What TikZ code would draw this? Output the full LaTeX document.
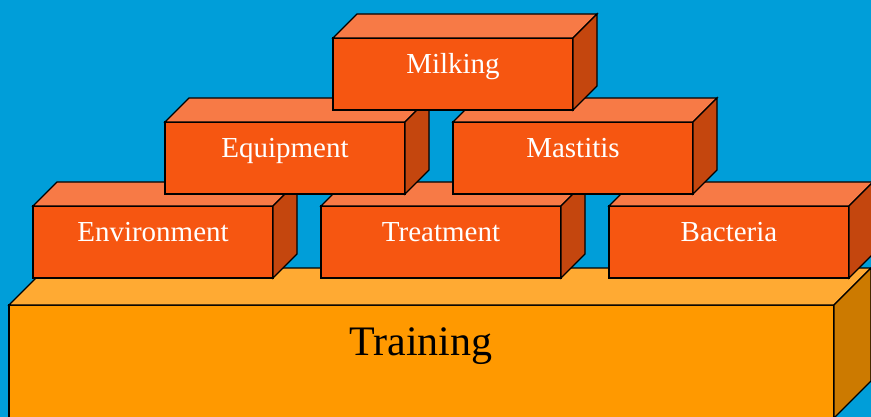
\documentclass[tikz,border=0pt]{standalone}
\usepackage{fontspec}
\setmainfont{Liberation Serif}
\usepackage{tikz}
\usetikzlibrary{positioning,calc}
\definecolor{fond}{RGB}{0,158,217}
\definecolor{briqueface}{RGB}{246,86,17}
\definecolor{briquedessus}{RGB}{247,122,70}
\definecolor{briquecote}{RGB}{196,70,14}
\definecolor{socleface}{RGB}{255,153,0}
\definecolor{socledessus}{RGB}{255,170,51}
\definecolor{soclecote}{RGB}{204,122,0}

\begin{document}
\begin{tikzpicture}[x=0.75pt,y=-0.75pt]
\tikzstyle{face}=[draw,line width=1pt,line join=miter,inner sep=0pt,outer sep=0pt]
\tikzstyle{brique}=[face,fill=briqueface,minimum width=180pt,minimum height=54pt,text=white,font=\fontsize{21.75}{26}\selectfont,text height=1ex,text depth=1ex]
\tikzstyle{socle}=[face,fill=socleface,minimum width=618.75pt,minimum height=84.75pt]
\def\Profondeur{24}
\def\ProfondeurSocle{37}
% dessus et cote d'un bloc : noeud, profondeur, couleurs
\def\Faces#1#2#3#4{
\draw[face,fill=#3] (#1.north west) -- ++(#2,-#2) -- ($(#1.north east)+(#2,-#2)$) -- (#1.north east) -- cycle;
\draw[face,fill=#4] (#1.north east) -- ++(#2,-#2) -- ($(#1.south east)+(#2,-#2)$) -- (#1.south east) -- cycle;
}
\useasboundingbox[fill=fond] (0,0) rectangle (871,417);
% socle
\node[socle] (Training) at (421.5,361.5) {};
\Faces{Training}{\ProfondeurSocle}{socledessus}{soclecote}
\node[anchor=base,font=\fontsize{31.5}{38}\selectfont] (titre) at (421,355) {Training};
% rangee du bas
\node[brique] (Environment) at (153,242) {Environment};
\Faces{Environment}{\Profondeur}{briquedessus}{briquecote}
\node[brique] (Treatment) at (441,242) {Treatment};
\Faces{Treatment}{\Profondeur}{briquedessus}{briquecote}
\node[brique] (Bacteria) at (729,242) {Bacteria};
\Faces{Bacteria}{\Profondeur}{briquedessus}{briquecote}
% rangee du milieu
\node[brique] (Equipment) at (285,158) {Equipment};
\Faces{Equipment}{\Profondeur}{briquedessus}{briquecote}
\node[brique] (Mastitis) at (573,158) {Mastitis};
\Faces{Mastitis}{\Profondeur}{briquedessus}{briquecote}
% sommet
\node[brique] (Milking) at (453,74) {Milking};
\Faces{Milking}{\Profondeur}{briquedessus}{briquecote}
\end{tikzpicture}
\end{document}
